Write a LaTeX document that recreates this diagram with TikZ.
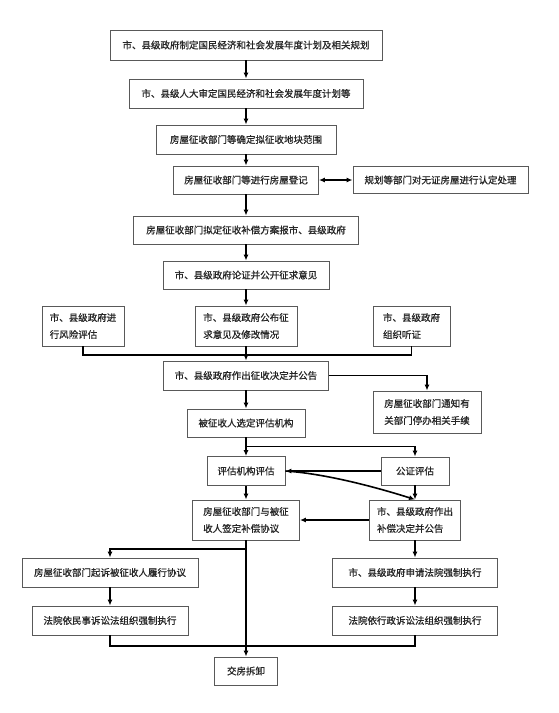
\documentclass[tikz,border=0pt]{standalone}
\usepackage{fontspec}
\setmainfont{Noto Sans CJK SC}[FakeBold=0.8]
\usetikzlibrary{arrows.meta}
\begin{document}
\begin{tikzpicture}[x=1pt,y=-1pt,
  box/.style={draw=black!65, line width=0.9pt, inner sep=2pt, align=left,
    font=\fontsize{9.5}{17}\selectfont, text=black!85},
  arr/.style={line width=1.6pt, -{Latex[length=6pt,width=5pt]}},
  dbl/.style={line width=1.6pt, {Latex[length=6pt,width=5pt]}-{Latex[length=6pt,width=5pt]}},
  ln/.style={line width=1.6pt}]
\useasboundingbox[fill=white] (0,0) rectangle (559,713);

\node[box, minimum width=272, minimum height=30] (b1) at (246,45) {市、县级政府制定国民经济和社会发展年度计划及相关规划};
\node[box, minimum width=234, minimum height=29] (b2) at (246,93.5) {市、县级人大审定国民经济和社会发展年度计划等};
\node[box, minimum width=180, minimum height=29] (b3) at (246,139.5) {房屋征收部门等确定拟征收地块范围};
\node[box, minimum width=145, minimum height=28] (b4) at (246,180) {房屋征收部门等进行房屋登记};
\node[box, minimum width=175, minimum height=27] (b4r) at (440.5,180) {规划等部门对无证房屋进行认定处理};
\node[box, minimum width=225, minimum height=28] (b5) at (246,230) {房屋征收部门拟定征收补偿方案报市、县级政府};
\node[box, minimum width=166, minimum height=28] (b6) at (246,275) {市、县级政府论证并公开征求意见};
\node[box, minimum width=82, minimum height=40] (r7l) at (83,326) {市、县级政府进\\行风险评估};
\node[box, minimum width=102, minimum height=40] (r7m) at (246,326) {市、县级政府公布征\\求意见及修改情况};
\node[box, minimum width=77, minimum height=40] (r7r) at (411.5,326) {市、县级政府\\组织听证};
\node[box, minimum width=165, minimum height=29] (b8) at (246,375.5) {市、县级政府作出征收决定并公告};
\node[box, minimum width=108, minimum height=42] (b9) at (427,412) {房屋征收部门通知有\\关部门停办相关手续};
\node[box, minimum width=118, minimum height=28] (b10) at (246,423) {被征收人选定评估机构};
\node[box, minimum width=78, minimum height=29] (b11) at (246,471) {评估机构评估};
\node[box, minimum width=68, minimum height=28] (b12) at (415,471) {公证评估};
\node[box, minimum width=107, minimum height=40] (b13) at (246,520) {房屋征收部门与被征\\收人签定补偿协议};
\node[box, minimum width=91, minimum height=40] (b14) at (415,520) {市、县级政府作出\\补偿决定并公告};
\node[box, minimum width=176, minimum height=29] (b15) at (110,572.5) {房屋征收部门起诉被征收人履行协议};
\node[box, minimum width=165, minimum height=29] (b16) at (415,572.5) {市、县级政府申请法院强制执行};
\node[box, minimum width=156, minimum height=29] (b17) at (110,620.5) {法院依民事诉讼法组织强制执行};
\node[box, minimum width=165, minimum height=29] (b18) at (415,620.5) {法院依行政诉讼法组织强制执行};
\node[box, minimum width=63, minimum height=28] (b19) at (246,671) {交房拆卸};

\coordinate (bus1) at (246,355);
\coordinate (br1) at (246,446.5);
\coordinate (br2) at (246,549);
\coordinate (bus2) at (246,646);

\draw[arr] (b1) -- (b2);
\draw[arr] (b2) -- (b3);
\draw[arr] (b3) -- (b4);
\draw[dbl] (b4) -- (b4r);
\draw[arr] (b4) -- (b5);
\draw[arr] (b5) -- (b6);
\draw[arr] (b6) -- (r7m);
\draw[ln] (r7l.south) |- (bus1) -| (r7r.south);
\draw[arr] (r7m.south) -- (b8.north);
\draw[arr] (b8.east) -| (b9.north);
\draw[arr] (b8) -- (b10);
\draw[arr] (b10) -- (b11);
\draw[arr] (br1) -| (b12.north);
\draw[arr] (b12.west) -- (b11.east);
\draw[arr] (b11.east) .. controls (330,474) and (385,490) .. (b14.north);
\draw[arr] (b12.south) -- (b14.north);
\draw[arr] (b11) -- (b13);
\draw[arr] (b14.west) -- (b13.east);
\draw[arr] (b13.south) -- (b19.north);
\draw[arr] (br2) -| (b15.north);
\draw[arr] (b14) -- (b16);
\draw[arr] (b15) -- (b17);
\draw[arr] (b16) -- (b18);
\draw[ln] (b17.south) |- (bus2) -| (b18.south);
\end{tikzpicture}
\end{document}
